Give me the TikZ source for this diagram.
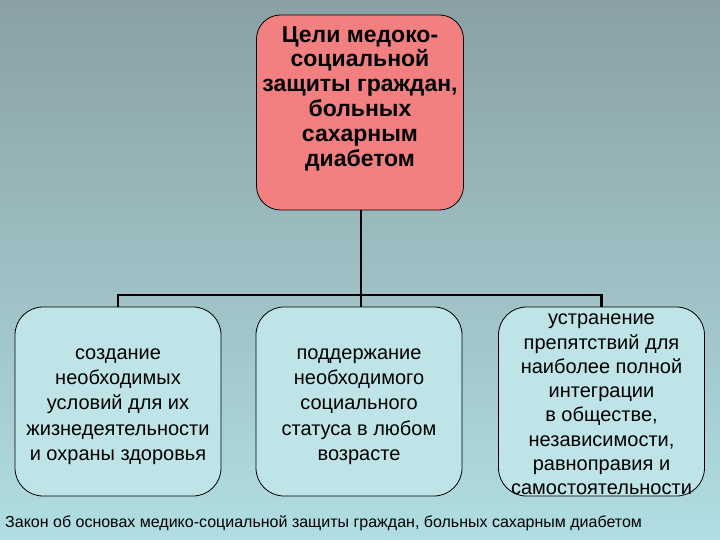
\documentclass[tikz,border=0pt]{standalone}
\usepackage{fontspec}
\setmainfont{Liberation Sans}
\usetikzlibrary{positioning}
\definecolor{goalred}{RGB}{242,128,128}
\definecolor{aimcyan}{RGB}{190,228,231}
\definecolor{bgtop}{RGB}{138,160,164}
\definecolor{bgbot}{RGB}{176,222,226}
\tikzset{
  goal/.style    = {draw, rounded corners=24pt, fill=goalred, line width=0.8pt,
                    minimum width=207pt, minimum height=195pt},
  goaltxt/.style = {align=center, font=\fontsize{23}{24.8}\selectfont\bfseries},
  aim/.style     = {draw, rounded corners=28pt, fill=aimcyan, line width=0.8pt,
                    minimum width=206pt, minimum height=189pt},
  aimtxt/.style  = {align=center, font=\fontsize{20}{25.2}\selectfont},
  tree/.style    = {line width=2.2pt},
}
\begin{document}
\begin{tikzpicture}[x=1pt, y=-1pt]
    \fill[top color=bgtop, bottom color=bgbot] (0,0) rectangle (720,540);
    \useasboundingbox (0,0) rectangle (720,540);
    % top: the goal
    \node[goal] (goal) at (360,112.5) {};
    \node[goaltxt] (goaltxt) at ([yshift=14pt]goal.center)
      {Цели медоко-\\ социальной\\ защиты граждан,\\ больных\\ сахарным\\ диабетом};
    % bottom row: the aims
    \node[aim] (aim1) at (118,401.5) {};
    \node[aim] (aim2) at (359,401.5) {};
    \node[aim] (aim3) at (601.5,401.5) {};
    \node[aimtxt] (aimtxt1) at ([yshift=-5pt]aim1.center)
      {создание\\ необходимых\\ условий для их\\ жизнедеятельности\\ и охраны здоровья};
    \node[aimtxt] (aimtxt2) at ([yshift=-5pt]aim2.center)
      {поддержание\\ необходимого\\ социального\\ статуса в любом\\ возрасте};
    \node[aimtxt, font=\fontsize{20}{24.3}\selectfont] (aimtxt3) at ([yshift=-3pt]aim3.center)
      {устранение\\ препятствий для\\ наиболее полной\\ интеграции\\ в обществе,\\ независимости,\\ равноправия и\\ самостоятельности};
    \coordinate (bus) at (361,295);
    \draw[tree] (goal.south -| bus) -- (bus);
    \draw[tree] (aim1.north) -- (aim1.north |- bus) -- (aim3.north |- bus) -- (aim3.north);
    \draw[tree] (aim2.north -| bus) -- (bus);
    % source line
    \node[anchor=west, font=\fontsize{16}{18}\selectfont, inner sep=0pt] (src) at (5,523)
      {Закон об основах медико-социальной защиты граждан, больных сахарным диабетом};
\end{tikzpicture}
\end{document}
